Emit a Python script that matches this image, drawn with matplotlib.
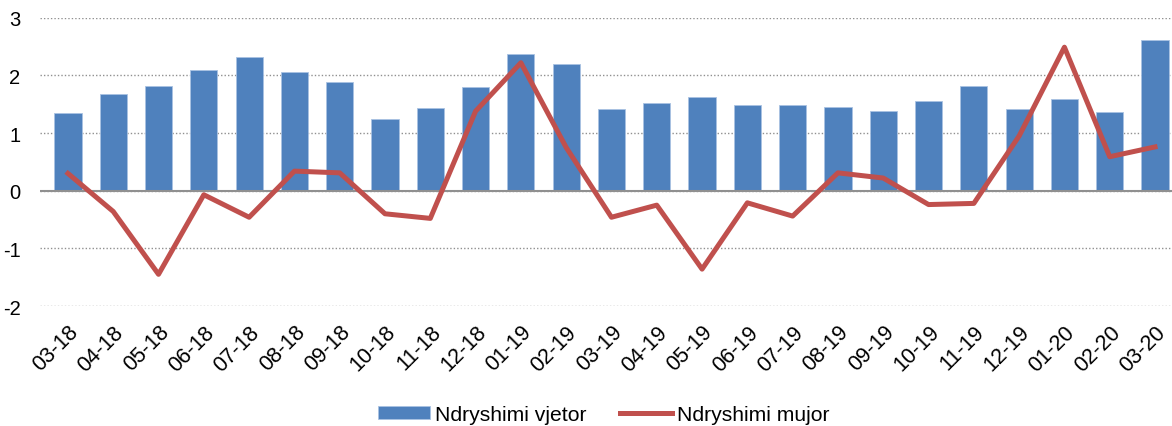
import numpy as np
import matplotlib.pyplot as plt

# Kategorite (muaj-vit)
muajt = ['03-18', '04-18', '05-18', '06-18', '07-18', '08-18', '09-18', '10-18',
         '11-18', '12-18', '01-19', '02-19', '03-19', '04-19', '05-19', '06-19',
         '07-19', '08-19', '09-19', '10-19', '11-19', '12-19', '01-20', '02-20',
         '03-20']

# Ndryshimi vjetor (shtyllat)
vjetor = [1.35, 1.67, 1.81, 2.10, 2.32, 2.06, 1.88, 1.24, 1.43, 1.80, 2.37, 2.19,
          1.42, 1.53, 1.62, 1.48, 1.49, 1.46, 1.38, 1.55, 1.81, 1.41, 1.59, 1.37,
          2.61]

# Ndryshimi mujor (vija)
mujor = [0.30, -0.36, -1.45, -0.07, -0.46, 0.34, 0.31, -0.40, -0.48, 1.38, 2.22, 0.75,
         -0.46, -0.25, -1.36, -0.21, -0.44, 0.31, 0.22, -0.24, -0.22, 0.95, 2.49, 0.59,
         0.76]

plt.rcParams['font.family'] = ['Liberation Sans', 'DejaVu Sans']
plt.rcParams['axes.unicode_minus'] = False

fig = plt.figure(figsize=(11.72, 4.27), dpi=100)
ax = fig.add_axes([0.034, 0.281, 0.966, 0.675])

x = np.arange(len(muajt))
b = ax.bar(x, vjetor, width=0.6, color='#4F81BD', edgecolor='#A9C2E2', linewidth=0.6,
           label='Ndryshimi vjetor', zorder=2)
l, = ax.plot(x, mujor, color='#C0504D', linewidth=3.6, label='Ndryshimi mujor', zorder=3)

ax.set_ylim(-2, 3)
ax.set_xlim(-0.62, len(muajt) - 0.625)
ax.set_yticks([-2, -1, 0, 1, 2, 3])
ax.yaxis.grid(True, linestyle=(0, (1, 1.5)), color='#909090', linewidth=1)
ax.axhline(0, color='#909090', linewidth=1.5, zorder=2.5)
ax.set_axisbelow(True)

for s in ax.spines.values():
    s.set_visible(False)

ax.tick_params(axis='both', length=0)
ax.tick_params(axis='y', labelsize=14.5, pad=14)
ax.set_xticks(x)
ax.set_xticklabels(muajt, rotation=45, ha='right', rotation_mode='anchor', fontsize=15.5)
ax.tick_params(axis='x', pad=11)

# legjenda poshte, ne qender
fig.legend([b, l], ['Ndryshimi vjetor', 'Ndryshimi mujor'], loc='center',
           bbox_to_anchor=(0.515, 0.027), ncol=2, frameon=False, fontsize=15.2,
           borderpad=0, borderaxespad=0,
           handlelength=2.46, handleheight=0.52, columnspacing=1.6, handletextpad=0.24)

fig.savefig('out.png', dpi=100)
